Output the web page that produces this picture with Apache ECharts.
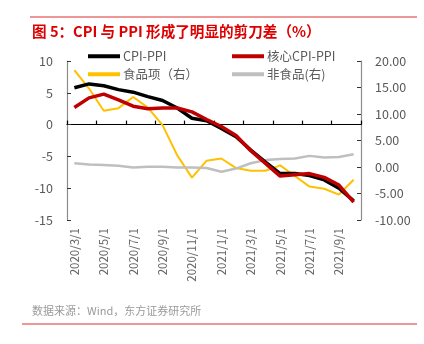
<!DOCTYPE html>
<html>
<head>
<meta charset="utf-8">
<script src="https://cdn.jsdelivr.net/npm/echarts@6/dist/echarts.min.js"></script>
<style>html,body{margin:0;padding:0;background:#fff;}#c{width:424px;height:344px;}</style>
</head>
<body>
<div id="c"></div>
<script>
var categories = ['2020/3/1','2020/4/1','2020/5/1','2020/6/1','2020/7/1','2020/8/1','2020/9/1','2020/10/1','2020/11/1','2020/12/1',
  '2021/1/1','2021/2/1','2021/3/1','2021/4/1','2021/5/1','2021/6/1','2021/7/1','2021/8/1','2021/9/1','2021/10/1'];
var cpiPpi = [5.8, 6.4, 6.1, 5.5, 5.1, 4.4, 3.8, 2.6, 1.0, 0.6, -0.6, -1.9, -4.0, -5.9, -7.7, -7.7, -8.0, -8.7, -10.0, -12.0];
var coreCpiPpi = [2.7, 4.2, 4.8, 3.9, 2.9, 2.5, 2.6, 2.6, 2.0, 0.8, -0.3, -1.7, -4.1, -6.1, -8.1, -7.9, -7.7, -8.3, -9.5, -12.2];
var food = [18.3, 14.8, 10.6, 11.1, 13.2, 11.2, 7.9, 2.2, -2.0, 1.2, 1.6, -0.2, -0.7, -0.7, 0.3, -1.7, -3.7, -4.1, -5.2, -2.4];
var nonFood = [0.7, 0.45, 0.4, 0.25, -0.1, 0.05, 0.05, -0.1, -0.1, -0.2, -0.9, -0.3, 0.7, 1.3, 1.5, 1.6, 2.1, 1.8, 1.9, 2.4];
var leftTicks = {min: -15, max: 10, interval: 5};
var rightTicks = {min: -10, max: 20, interval: 5};

var chart = echarts.init(document.getElementById('c'), null, {renderer: 'canvas'});
var FONT = '"Noto Sans CJK SC", "Noto Sans", sans-serif';
var axisGray = '#8c8c8c';
var labelGray = '#595959';
function leg(name, left, top) {
  return {
    data: [name], left: left, top: top, icon: 'rect', itemWidth: 32, itemHeight: 4,
    itemGap: 0, padding: 0, selectedMode: false,
    textStyle: {color: labelGray, fontSize: 12.5, fontFamily: FONT, padding: [0, 0, 0, -2]}
  };
}
chart.setOption({
  animation: false,
  backgroundColor: '#fff',
  title: {
    text: '图 5：CPI 与 PPI 形成了明显的剪刀差（%）',
    left: 32, top: 24, padding: 0,
    textStyle: {color: '#dd0000', fontSize: 14.6, fontWeight: 'bold', fontFamily: FONT}
  },
  graphic: [
    {type: 'line', shape: {x1: 30, y1: 17, x2: 417, y2: 17}, style: {stroke: '#e03030', lineWidth: 1.2}},
    {type: 'line', shape: {x1: 22, y1: 324, x2: 417, y2: 324}, style: {stroke: '#e03030', lineWidth: 1.2}},
    {type: 'text', left: 32, top: 305, style: {text: '数据来源：Wind，东方证券研究所', fill: '#9a9a9a', font: '11px ' + FONT}}
  ],
  legend: [
    leg('CPI-PPI', 88, 50),
    leg('核心CPI-PPI', 232, 50),
    leg('食品项（右）', 88, 68),
    leg('非食品(右)', 232, 68)
  ],
  grid: {left: 67, right: 63, top: 61, bottom: 124, containLabel: false},
  xAxis: [
    {
      type: 'category', data: categories, boundaryGap: true, position: 'bottom',
      axisLine: {show: false, onZero: false},
      axisTick: {show: false},
      axisLabel: {interval: 1, rotate: 90, color: '#666666', fontSize: 11.5, fontFamily: FONT, margin: 8}
    },
    {
      type: 'category', data: categories, boundaryGap: true, position: 'bottom',
      axisLine: {show: true, onZero: true, onZeroAxisIndex: 0, lineStyle: {color: '#000', width: 1.2}},
      axisTick: {show: true, inside: true, interval: 1, length: 4, lineStyle: {color: '#000', width: 1.2}},
      axisLabel: {show: false}
    }
  ],
  yAxis: [
    {
      type: 'value', min: leftTicks.min, max: leftTicks.max, interval: leftTicks.interval, position: 'left',
      axisLine: {show: true, lineStyle: {color: axisGray, width: 1.2}},
      axisTick: {show: true, inside: true, length: 4, lineStyle: {color: '#333'}},
      splitLine: {show: false},
      axisLabel: {color: labelGray, fontSize: 12.5, fontFamily: FONT, margin: 14}
    },
    {
      type: 'value', min: rightTicks.min, max: rightTicks.max, interval: rightTicks.interval, position: 'right',
      axisLine: {show: true, lineStyle: {color: axisGray, width: 1.2}},
      axisTick: {show: true, inside: true, length: 4, lineStyle: {color: '#333'}},
      splitLine: {show: false},
      axisLabel: {color: labelGray, fontSize: 12.5, fontFamily: FONT, margin: 14,
        formatter: function (v) { return v.toFixed(2); }}
    }
  ],
  series: [
    {name: '食品项（右）', type: 'line', yAxisIndex: 1, xAxisIndex: 0, data: food, symbol: 'none',
      lineStyle: {color: '#ffc000', width: 2}, itemStyle: {color: '#ffc000'}, z: 2},
    {name: '非食品(右)', type: 'line', yAxisIndex: 1, xAxisIndex: 0, data: nonFood, symbol: 'none',
      lineStyle: {color: '#bfbfbf', width: 2.5}, itemStyle: {color: '#bfbfbf'}, z: 2},
    {name: 'CPI-PPI', type: 'line', yAxisIndex: 0, xAxisIndex: 0, data: cpiPpi, symbol: 'none',
      lineStyle: {color: '#000000', width: 3.5}, itemStyle: {color: '#000000'}, z: 3},
    {name: '核心CPI-PPI', type: 'line', yAxisIndex: 0, xAxisIndex: 0, data: coreCpiPpi, symbol: 'none',
      lineStyle: {color: '#c00000', width: 3.5}, itemStyle: {color: '#c00000'}, z: 4}
  ]
});
</script>
</body>
</html>
